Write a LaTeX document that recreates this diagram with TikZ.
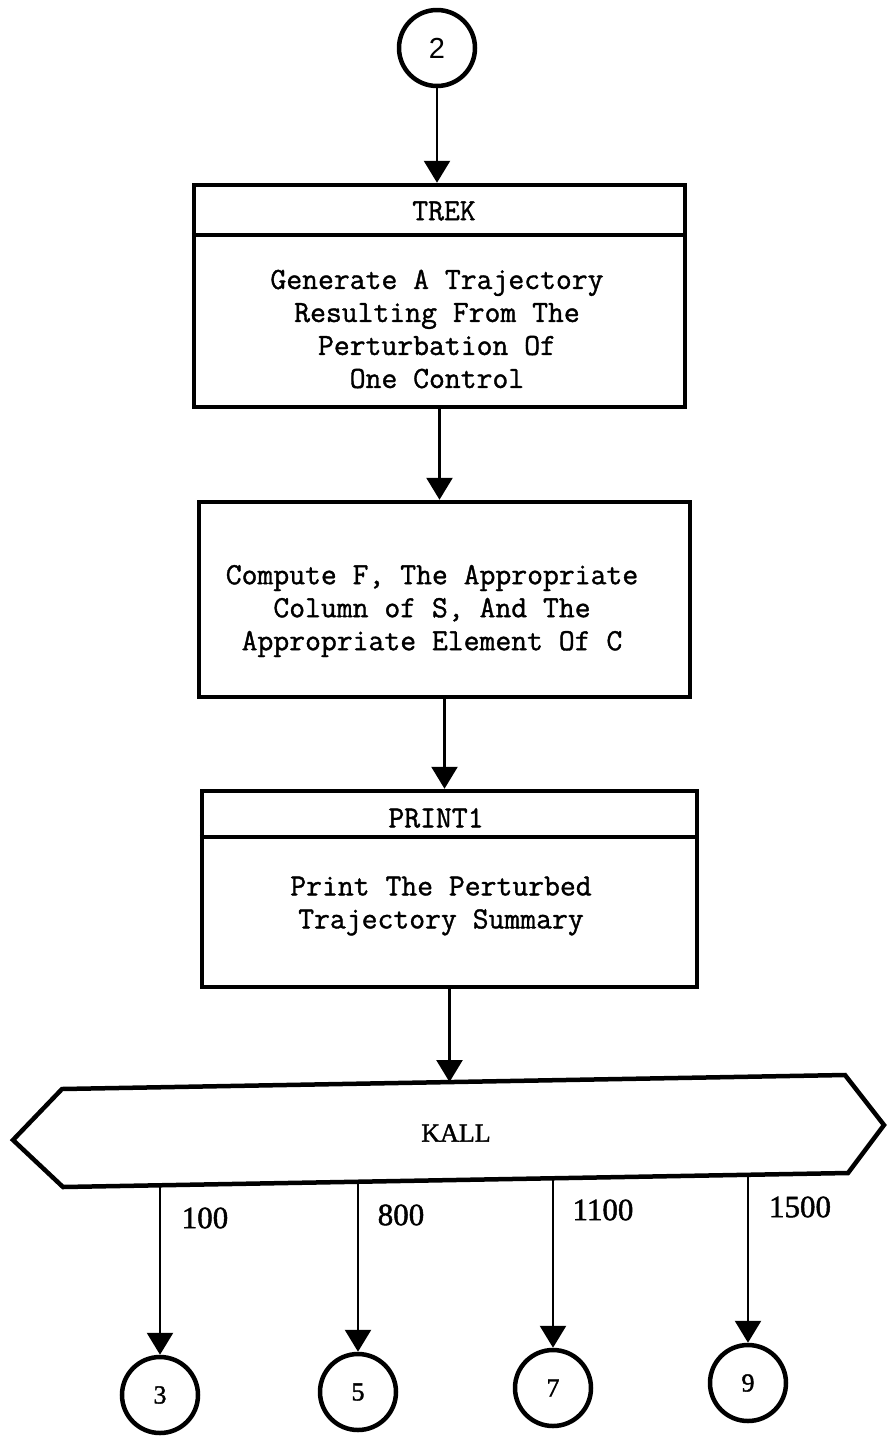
\documentclass[tikz,border=0pt]{standalone}
\usepackage{fontspec}
\setmainfont{Liberation Serif}
\newfontfamily\monofont[FakeBold=1.2]{Latin Modern Mono}
\newfontfamily\serifbold[FakeBold=1.5]{Liberation Serif}
\newfontfamily\sansfontx{Liberation Sans}
\usetikzlibrary{arrows.meta,calc}
\begin{document}
\begin{tikzpicture}[x=1pt,y=-1pt,
  boxstyle/.style={draw,line width=4.5pt,rectangle,inner sep=0pt},
  conn/.style={line width=2.6pt,-{Triangle[width=26pt,length=22pt]}},
  conncircle/.style={draw,circle,line width=4.5pt,minimum size=76pt,inner sep=0pt},
  mtext/.style={font=\monofont\fontsize{30.8}{33}\selectfont,align=center,inner sep=0pt},
  numtext/.style={font=\serifbold\fontsize{31}{33}\selectfont,inner sep=0pt},
  circnum/.style={font=\serifbold\fontsize{26}{28}\selectfont},
  divider/.style={line width=4pt}
]
\useasboundingbox (0,0) rectangle (888,1436);

% start connector
\node[conncircle,font=\sansfontx\fontsize{29}{30}\selectfont] (c2) at (437,48) {2};

% TREK box
\node[boxstyle,minimum width=491pt,minimum height=222pt] (trek) at (439.5,296) {};
\draw[divider] ($(trek.north west)+(0,52)$) -- ($(trek.north east)+(0,52)$);
\node[mtext] (trekt) at (444,211) {TREK};
\node[mtext] (trekb) at (437,329) {Generate A Trajectory\\Resulting From The\\Perturbation Of\\One Control};

% compute box
\node[boxstyle,minimum width=491pt,minimum height=195pt] (comp) at (444.5,599.5) {};
\node[mtext] (compb) at (432,611) {Compute F, The Appropriate\\Column of S, And The\\Appropriate Element Of C};

% PRINT1 box
\node[boxstyle,minimum width=495pt,minimum height=196pt] (print) at (449.5,889) {};
\draw[divider] ($(print.north west)+(0,48)$) -- ($(print.north east)+(0,48)$);
\node[mtext] (printt) at (436,818) {PRINT1};
\node[mtext] (printb) at (441,906) {Print The Perturbed\\Trajectory Summary};

% KALL
\draw[line width=4.5pt,line join=miter] (13,1140) -- (62,1089) -- (845,1075) -- (884,1125) -- (848,1173) -- (63,1187) -- cycle;
\node[font=\serifbold\fontsize{26}{28}\selectfont,inner sep=0pt] (kall) at (456,1133) {KALL};
\coordinate (kin) at (449.5,1082);
\coordinate (b1) at (160,1185);
\coordinate (b2) at (358,1182);
\coordinate (b3) at (553,1178);
\coordinate (b4) at (748,1175);

% exit connectors
\node[conncircle,circnum] (c3) at (160,1395) {3};
\node[conncircle,circnum] (c5) at (358,1392) {5};
\node[conncircle,circnum] (c7) at (553,1388) {7};
\node[conncircle,circnum] (c9) at (748,1383) {9};

% connectors
\draw[conn] (c2.south) -- (c2.south |- trek.north);
\draw[conn] (trek.south) -- (trek.south |- comp.north);
\draw[conn] (comp.south) -- (comp.south |- print.north);
\draw[conn] (print.south) -- (kin);
\draw[conn] (b1) -- (c3.north);
\draw[conn] (b2) -- (c5.north);
\draw[conn] (b3) -- (c7.north);
\draw[conn] (b4) -- (c9.north);

% branch labels
\node[numtext] (l100) at (205,1218) {100};
\node[numtext] (l800) at (401,1215) {800};
\node[numtext] (l1100) at (603,1210) {1100};
\node[numtext] (l1500) at (800,1207) {1500};
\end{tikzpicture}
\end{document}
